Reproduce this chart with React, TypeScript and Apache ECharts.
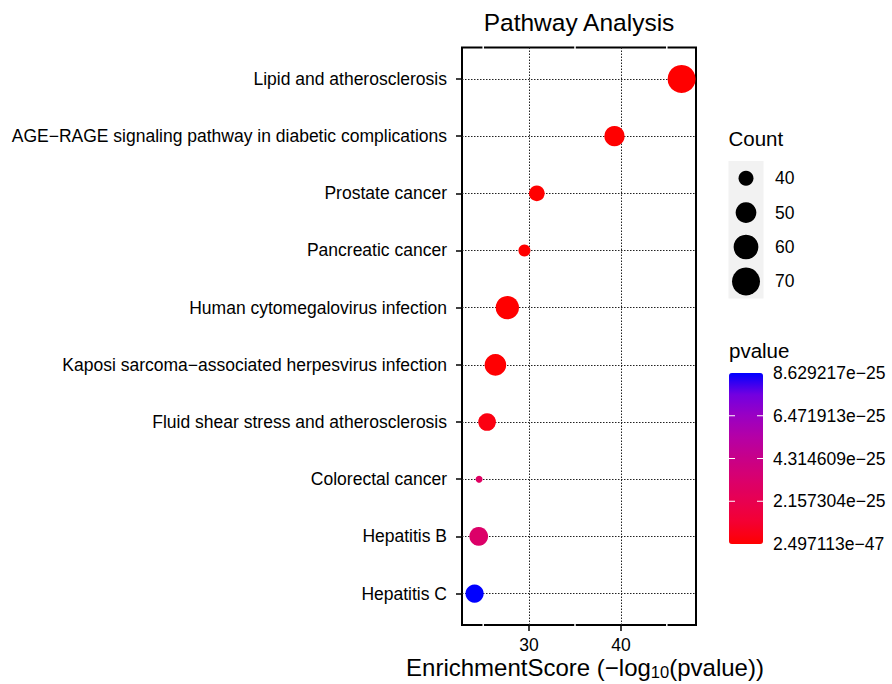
import React, { useEffect, useRef } from 'react';
import * as echarts from 'echarts';

// ---------- data ----------
const pathways = [
  'Lipid and atherosclerosis',
  'AGE−RAGE signaling pathway in diabetic complications',
  'Prostate cancer',
  'Pancreatic cancer',
  'Human cytomegalovirus infection',
  'Kaposi sarcoma−associated herpesvirus infection',
  'Fluid shear stress and atherosclerosis',
  'Colorectal cancer',
  'Hepatitis B',
  'Hepatitis C',
];
const enrichmentScores = [46.61, 39.3, 30.84, 29.49, 27.63, 26.33, 25.42, 24.55, 24.51, 24.06];
const counts = [70, 49, 41, 37, 56, 52, 44, 35, 46, 45];
const pvalues = [
  2.497113e-47, 5.0e-40, 1.4e-31, 3.2e-30, 2.3e-28, 4.7e-27, 3.8e-26, 2.8e-25, 3.1e-25, 8.629217e-25,
];
const xTicks = [30, 40];
const xMinorTicks = [25, 35, 45];
const countLegendValues = [40, 50, 60, 70];
const pvalueLegendValues = [8.629217e-25, 6.471913e-25, 4.314609e-25, 2.157304e-25, 2.497113e-47];
const pvalueLegendLabels = ['8.629217e−25', '6.471913e−25', '4.314609e−25', '2.157304e−25', '2.497113e−47'];
const pvalueMin = 2.497113e-47;
const pvalueMax = 8.629217e-25;
const countMin = 35;
const countMax = 70;

// ---------- styling ----------
const FONT = '"Liberation Sans", Arial, Helvetica, sans-serif';
const GRID = { left: 462, right: 196, top: 47.5, bottom: 59 };
const X_MIN = 22.69;
const X_MAX = 48.18;
const Y_MIN = 0.45;
const Y_MAX = 10.55;
const SIZE_MIN = 7;
const SIZE_MAX = 28;
// red -> blue gradient interpolated in Lab space (like ggplot2)
const GRADIENT = ['#ff0000', '#f40031', '#e80050', '#da006c', '#c80088', '#b500a6', '#9a00c3', '#7200e1', '#0000ff'];

const sizeOf = (c: number) =>
  SIZE_MIN + (SIZE_MAX - SIZE_MIN) * Math.sqrt(Math.max(0, (c - countMin) / (countMax - countMin)));

const CB = { x: 729, y: 373, w: 34, h: 171 };
const KEY = { x: 728.5, y: 161, w: 35, step: 34.4 };

export default function App() {
  const ref = useRef<HTMLDivElement>(null);

  useEffect(() => {
    document.body.style.margin = '0';
    const chart = echarts.init(ref.current!, null, { renderer: 'svg' });
    const n = pathways.length;
    const yIdx = pathways.map((_, i) => n - i);

    const dotted = { color: '#222', width: 1, type: [1.5, 1.5] as number[] };

    const option: any = {
      animation: false,
      backgroundColor: '#fff',
      textStyle: { fontFamily: FONT },
      title: {
        text: 'Pathway Analysis',
        left: (GRID.left + (892 - GRID.right)) / 2,
        top: 10,
        padding: 0,
        textAlign: 'center',
        textStyle: { fontFamily: FONT, fontSize: 24.5, fontWeight: 'normal', color: '#000' },
      },
      grid: {
        left: GRID.left,
        right: GRID.right,
        top: GRID.top,
        bottom: GRID.bottom,
        show: true,
        borderColor: '#000',
        borderWidth: 2,
        backgroundColor: '#fff',
        containLabel: false,
        outerBoundsMode: 'none',
      },
      xAxis: {
        type: 'value',
        min: X_MIN,
        max: X_MAX,
        axisLine: { show: false },
        axisTick: { show: true, customValues: xTicks, length: 6, lineStyle: { color: '#000', width: 1.5 } },
        axisLabel: { customValues: xTicks, fontSize: 17.5, color: '#000', margin: 11, fontFamily: FONT },
        splitLine: { show: false },
      },
      yAxis: {
        type: 'value',
        min: Y_MIN,
        max: Y_MAX,
        axisLine: { show: false },
        axisTick: { show: true, customValues: yIdx, length: 6, lineStyle: { color: '#000', width: 1.5 } },
        axisLabel: {
          customValues: yIdx,
          formatter: (v: number) => pathways[n - Math.round(v)] ?? '',
          fontSize: 17.5,
          color: '#000',
          margin: 15,
          fontFamily: FONT,
        },
        splitLine: { show: false },
      },
      visualMap: {
        type: 'continuous',
        seriesIndex: 1,
        dimension: 3,
        min: pvalueMin,
        max: pvalueMax,
        inRange: { color: GRADIENT },
        calculable: false,
        left: CB.x,
        top: CB.y,
        itemWidth: CB.w,
        itemHeight: CB.h,
        padding: 0,
        text: null,
        orient: 'vertical',
      },
      series: [
        {
          type: 'line',
          data: [],
          silent: true,
          z: 1,
          markLine: {
            silent: true,
            symbol: ['none', 'none'],
            label: { show: false },
            z: 1,
            animation: false,
            lineStyle: dotted,
            data: [
              ...xTicks.map((v) => ({ xAxis: v, lineStyle: dotted })),
              ...yIdx.map((v) => ({ yAxis: v, lineStyle: dotted })),
            ],
          },
        },
        {
          type: 'scatter',
          z: 3,
          data: pathways.map((p, i) => [enrichmentScores[i], n - i, counts[i], pvalues[i], p]),
          symbol: 'circle',
          symbolSize: (v: number[]) => sizeOf(v[2]),
          itemStyle: { opacity: 1 },
        },
      ],
    };
    chart.setOption(option);

    // ---------- axis title, legends and border gaps (graphic) ----------
    const graphics: any[] = [];
    const gridTop = GRID.top;
    const gridBottom = 684 - GRID.bottom;
    xMinorTicks.forEach((v) => {
      const px = chart.convertToPixel({ xAxisIndex: 0 }, v) as number;
      [gridTop, gridBottom].forEach((yy) => {
        graphics.push({
          type: 'line',
          z: 10,
          shape: { x1: px, y1: yy - 1.5, x2: px, y2: yy + 1.5 },
          style: { stroke: '#fff', lineWidth: 1.5 },
          silent: true,
        });
      });
    });

    // x axis title with subscript
    graphics.push({
      type: 'text',
      x: (GRID.left + (892 - GRID.right)) / 2 + 6,
      y: 667,
      style: {
        text: '{a|EnrichmentScore (−log}{s|10}{a|(pvalue))}',
        align: 'center',
        verticalAlign: 'middle',
        fill: '#000',
        rich: {
          a: { fontSize: 24, fontFamily: FONT, fill: '#000', lineHeight: 24 },
          s: { fontSize: 16.5, fontFamily: FONT, fill: '#000', padding: [10, 0, 0, 0], lineHeight: 17 },
        },
      },
    });

    // Count legend
    graphics.push({
      type: 'text',
      left: KEY.x,
      top: 128,
      style: { text: 'Count', fontSize: 20.5, fontFamily: FONT, fill: '#000' },
    });
    graphics.push({
      type: 'rect',
      shape: { x: KEY.x, y: KEY.y, width: KEY.w, height: KEY.step * countLegendValues.length },
      style: { fill: '#f2f2f2' },
      silent: true,
    });
    countLegendValues.forEach((v, i) => {
      const cy = KEY.y + KEY.step * (i + 0.5);
      graphics.push({
        type: 'circle',
        shape: { cx: KEY.x + KEY.w / 2, cy, r: sizeOf(v) / 2 },
        style: { fill: '#000' },
        silent: true,
      });
      graphics.push({
        type: 'text',
        x: 775,
        y: cy,
        style: { text: String(v), fontSize: 17.5, fontFamily: FONT, fill: '#000', verticalAlign: 'middle', align: 'left' },
      });
    });

    // pvalue colourbar labels and ticks
    graphics.push({
      type: 'text',
      left: CB.x,
      top: 340,
      style: { text: 'pvalue', fontSize: 20.5, fontFamily: FONT, fill: '#000' },
    });
    pvalueLegendValues.forEach((v, i) => {
      const yy = CB.y + (1 - (v - pvalueMin) / (pvalueMax - pvalueMin)) * CB.h;
      graphics.push({
        type: 'text',
        x: 773,
        y: yy,
        style: {
          text: pvalueLegendLabels[i],
          fontSize: 17.5,
          fontFamily: FONT,
          fill: '#000',
          verticalAlign: 'middle',
          align: 'left',
        },
      });
      if (i > 0 && i < pvalueLegendValues.length - 1) {
        graphics.push({
          type: 'line',
          shape: { x1: CB.x, y1: yy, x2: CB.x + 6, y2: yy },
          style: { stroke: '#fff', lineWidth: 1 },
          silent: true,
          z: 20,
        });
        graphics.push({
          type: 'line',
          shape: { x1: CB.x + CB.w - 6, y1: yy, x2: CB.x + CB.w, y2: yy },
          style: { stroke: '#fff', lineWidth: 1 },
          silent: true,
          z: 20,
        });
      }
    });

    chart.setOption({ graphic: graphics });

    return () => chart.dispose();
  }, []);

  return <div ref={ref} style={{ width: 892, height: 684 }} />;
}
